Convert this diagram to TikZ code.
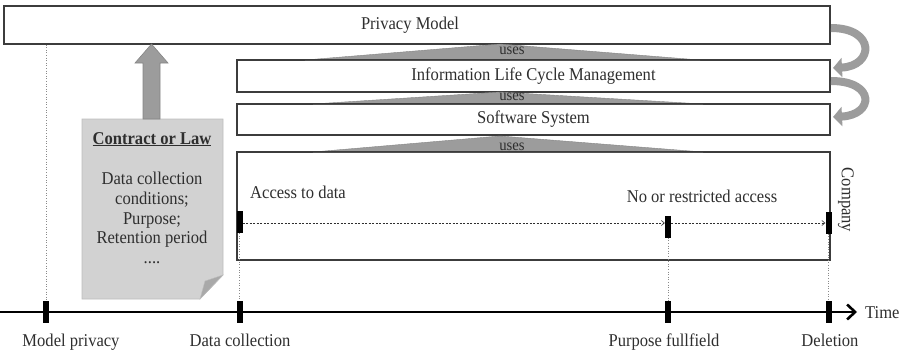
\documentclass[tikz,border=0pt]{standalone}
\usepackage{fontspec}
\setmainfont{Liberation Serif}[FakeStretch=0.92]
\usetikzlibrary{arrows.meta,calc}
\definecolor{edge}{HTML}{3C3C3C}
\definecolor{ink}{HTML}{2E2E2E}
\definecolor{blockgray}{HTML}{9C9C9C}
\definecolor{blockedge}{HTML}{858585}
\definecolor{paper}{HTML}{D2D2D2}
\definecolor{paperedge}{HTML}{BDBDBD}
\definecolor{fold}{HTML}{A9A9A9}
\definecolor{guide}{HTML}{8A8A8A}
\begin{document}
\begin{tikzpicture}[x=1pt,y=-1pt,
  font=\fontsize{18}{21}\selectfont, text=ink,
  layerbox/.style={draw=edge, line width=1.3pt, fill=white, inner sep=0pt,
                   minimum width=593pt},
  usestri/.style={fill=blockgray, draw=blockedge, line width=0.4pt},
  useslabel/.style={font=\fontsize{16}{18}\selectfont, inner sep=0pt},
  tickmark/.style={fill=black, inner sep=0pt, minimum width=6pt, minimum height=22pt},
  guideline/.style={draw=guide, line width=0.6pt, dash pattern=on 1pt off 1.6pt},
  accessline/.style={draw=ink, line width=0.6pt, dash pattern=on 2pt off 1.5pt,
                     -{Straight Barb[length=3pt,width=5pt]}},
  flowarrow/.style={draw=blockgray, line width=8pt,
                    -{Triangle[length=9pt,width=19pt]}},
  caption/.style={inner sep=0pt}]
\useasboundingbox (0,0) rectangle (903,351);

% layered boxes
\node[draw=edge, line width=1.3pt, fill=white, inner sep=0pt,
      minimum width=826pt, minimum height=38pt] (pm) at (417,25) {};
\node (pmlabel) at (410,25) {Privacy Model};
\node[layerbox, minimum height=32pt] (ilcm) at (533.5,76) {Information Life Cycle Management};
\node[layerbox, minimum height=31pt] (sw) at (533.5,119.5) {Software System};
\node[layerbox, minimum height=108pt] (co) at (533.5,206) {};

% "uses" wedges
\path[usestri] (500,44) -- (700,60) -- (305,60) -- cycle;
\path[usestri] (500,92) -- (703,104) -- (313,104) -- cycle;
\path[usestri] (500,136) -- (703,152) -- (313,152) -- cycle;
\node[useslabel] (u1) at (512,51) {uses};
\node[useslabel] (u2) at (512,97) {uses};
\node[useslabel] (u3) at (512,147) {uses};

% redraw box borders over wedge edges
\draw[edge, line width=1.3pt] (ilcm.north west) -- (ilcm.north east);
\draw[edge, line width=1.3pt] (sw.north west) -- (sw.north east);
\draw[edge, line width=1.3pt] (co.north west) -- (co.north east);

% curved arrows on the right
\coordinate (c1s) at (831,28);
\coordinate (c1e) at (833,68);
\coordinate (c2s) at (831,81);
\coordinate (c2e) at (833,117);
\draw[flowarrow] (c1s) .. controls (876,28) and (874,66) .. (c1e);
\draw[flowarrow] (c2s) .. controls (876,81) and (874,115) .. (c2e);

% company box content
\node[caption, anchor=base west] (acc) at (250,198) {Access to data};
\node[caption, anchor=base] (noacc) at (702,202) {No or restricted access};
\node[caption, rotate=-90] (comp) at (846,200) {Company};
\node[tickmark] (b1) at (239.5,222) {};
\node[tickmark] (b2) at (668,226.5) {};
\node[tickmark] (b3) at (828.5,222.5) {};
\draw[accessline] (b1.east |- 0,223) -- (b2.west |- 0,223);
\draw[accessline] (b2.east |- 0,223) -- (b3.west |- 0,223);

% contract document
\path[fill=paper, draw=paperedge, line width=0.6pt]
  (82,119) -- (223,119) -- (223,275) -- (200,299) -- (82,299) -- cycle;
\path[fill=fold, draw=paperedge, line width=0.4pt]
  (223,275) -- (200,299) -- (205,281) -- cycle;
\node[caption, anchor=base] (doctitle) at (152,144) {\underline{\textbf{Contract or Law}}};
\node[caption, anchor=center, align=center, font=\fontsize{18}{19.7}\selectfont]
  (doctext) at (152,218) {Data collection\\conditions;\\Purpose;\\Retention period\\....};

% block arrow from document to privacy model
\path[fill=blockgray, draw=blockedge, line width=0.6pt]
  (143,119) -- (143,63) -- (135,63) -- (151.5,44) -- (168,63) -- (160,63) -- (160,119) -- cycle;

% timeline
\coordinate (tstart) at (0,312);
\coordinate (tend) at (857,312);
\draw[line width=2.6pt, -{Straight Barb[length=8pt,width=15pt]}] (tstart) -- (tend);
\node[tickmark] (t1) at (46,312) {};
\node[tickmark] (t2) at (239.5,312) {};
\node[tickmark] (t3) at (668,312) {};
\node[tickmark] (t4) at (828.5,312) {};
\node[caption, anchor=west] (time) at (865,313) {Time};

% guide lines to the timeline
\draw[guideline] (t1.north |- pm.south) -- (t1.north);
\draw[guideline] (b1.south) -- (t2.north);
\draw[guideline] (b2.south) -- (t3.north);
\draw[guideline] (b3.south) -- (t4.north);

% milestone labels
\node[caption, anchor=base] (l1) at (71,346) {Model privacy};
\node[caption, anchor=base] (l2) at (240,346) {Data collection};
\node[caption, anchor=base] (l3) at (664,346) {Purpose fullfield};
\node[caption, anchor=base] (l4) at (830,346) {Deletion};
\end{tikzpicture}
\end{document}
